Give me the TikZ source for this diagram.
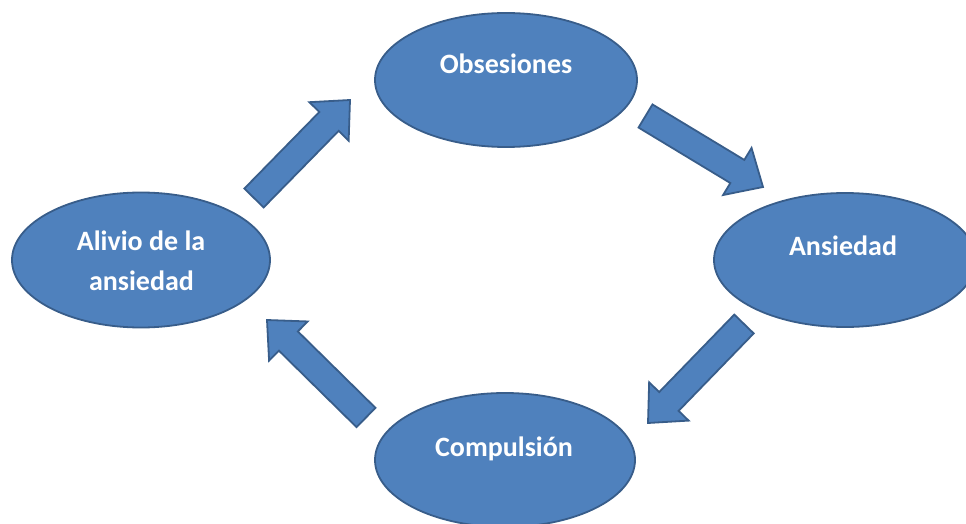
\documentclass[tikz,border=0pt]{standalone}
\usepackage{fontspec}
\setmainfont{Carlito}
\usetikzlibrary{shapes.geometric,calc}
\definecolor{fillblue}{HTML}{4F81BD}
\definecolor{lineblue}{HTML}{385D8A}
\newcommand{\blockarr}[2]{%
  \coordinate (hb) at ($(#2)!30pt!(#1)$);
  \draw[barrow] ($(#1)!13.5pt!90:(#2)$) -- ($(hb)!13.5pt!-90:(#1)$) -- ($(hb)!27.5pt!-90:(#1)$)
    -- (#2) -- ($(hb)!27.5pt!90:(#1)$) -- ($(hb)!13.5pt!90:(#1)$) -- ($(#1)!13.5pt!-90:(#2)$) -- cycle;}
\begin{document}
\begin{tikzpicture}[x=1pt,y=1pt,
  bubble/.style={ellipse, draw=lineblue, line width=1.8pt, fill=fillblue, inner sep=0pt},
  lbl/.style={text=white, font=\fontsize{28}{40}\selectfont\bfseries, anchor=base, inner sep=0pt},
  barrow/.style={draw=lineblue, line width=1.8pt, fill=fillblue, line join=miter}]
\useasboundingbox (0,0) rectangle (966,523);
\fill[white] (0,0) rectangle (966,523);
% ellipses
\node[bubble, minimum width=262pt, minimum height=134pt] (obs) at (506,443) {};
\node[bubble, minimum width=262pt, minimum height=134pt] (ans) at (845,263) {};
\node[bubble, minimum width=260pt, minimum height=134pt] (comp) at (505,63) {};
\node[bubble, minimum width=258pt, minimum height=135pt] (aliv) at (141,263) {};
% labels
\node[lbl] (obst) at (506,449.7) {Obsesiones};
\node[lbl] (anst) at (843,268) {Ansiedad};
\node[lbl] (compt) at (504,67) {Compulsión};
\node[lbl] (alivt1) at (141,273) {Alivio de la};
\node[lbl] (alivt2) at (141.5,233) {ansiedad};
% arrows
\coordinate (a1t) at (254,325);   \coordinate (a1h) at (350,423);
\coordinate (a2t) at (645.5,407); \coordinate (a2h) at (763,336);
\coordinate (a3t) at (744,199);   \coordinate (a3h) at (648,100);
\coordinate (a4t) at (366,105.5); \coordinate (a4h) at (267,203);
\blockarr{a1t}{a1h}
\blockarr{a2t}{a2h}
\blockarr{a3t}{a3h}
\blockarr{a4t}{a4h}
\end{tikzpicture}
\end{document}
